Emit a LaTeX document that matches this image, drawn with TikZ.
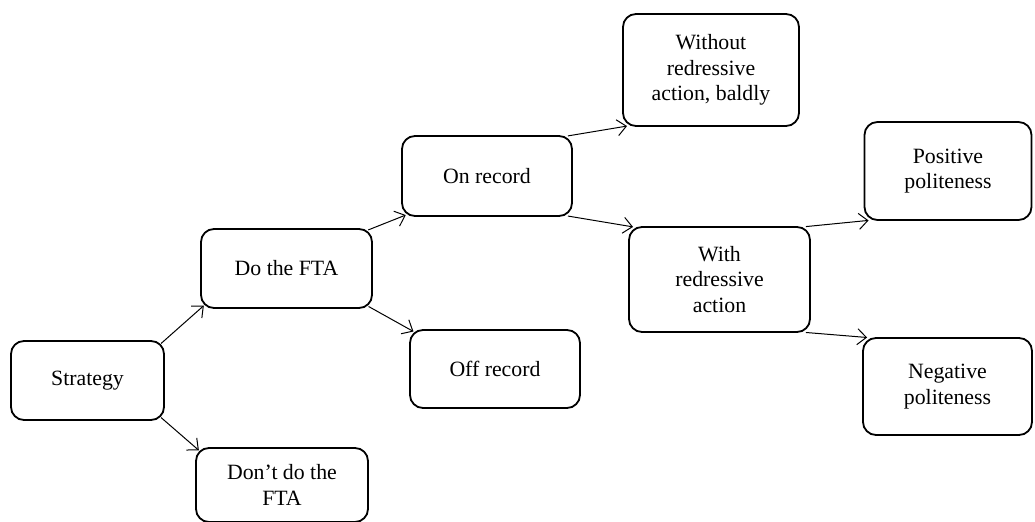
\documentclass[tikz,border=0pt]{standalone}
\usepackage{fontspec}
\setmainfont{Liberation Serif}
\usetikzlibrary{arrows.meta}
\begin{document}
\begin{tikzpicture}[
  x=0.5pt, y=-0.5pt,
  box/.style={draw, line width=0.9pt, rounded corners=6.5pt, align=center, inner sep=0pt,
    font=\fontsize{10.9}{12.8}\selectfont},
  arrow/.style={-{Straight Barb[length=4.5pt,width=8pt]}, line width=0.5pt,
    shorten <=-2.5pt, shorten >=-2.5pt}
]
\useasboundingbox (0,0) rectangle (1035,522);
\node[box, minimum width=76.5pt, minimum height=39.5pt] (strategy) at (87.5,380.5) {Strategy};
\node[box, minimum width=85.5pt, minimum height=39.5pt] (dofta) at (286.5,268.5) {Do the FTA};
\node[box, minimum width=86pt, minimum height=37pt] (dont) at (282,485) {Don’t do the\\FTA};
\node[box, minimum width=85pt, minimum height=40pt] (onrec) at (487,176) {On record};
\node[box, minimum width=85pt, minimum height=39pt] (offrec) at (495,369) {Off record};
\node[box, minimum width=88pt, minimum height=56pt] (without) at (711,70) {Without\\redressive\\action, baldly};
\node[box, minimum width=90.5pt, minimum height=52.5pt] (withr) at (719.5,279.5) {With\\redressive\\action};
\node[box, minimum width=83.5pt, minimum height=49pt] (pos) at (948,171) {Positive\\politeness};
\node[box, minimum width=84.5pt, minimum height=48.5pt] (neg) at (947.5,386.5) {Negative\\politeness};
\draw[arrow] (strategy.north east) -- (dofta.south west);
\draw[arrow] (strategy.south east) -- (dont.north west);
\draw[arrow] (dofta.north east) -- (onrec.south west);
\draw[arrow] (dofta.south east) -- (offrec.north west);
\draw[arrow] (onrec.north east) -- (without.south west);
\draw[arrow] (onrec.south east) -- (withr.north west);
\draw[arrow] (withr.north east) -- (pos.south west);
\draw[arrow] (withr.south east) -- (neg.north west);
\end{tikzpicture}
\end{document}
